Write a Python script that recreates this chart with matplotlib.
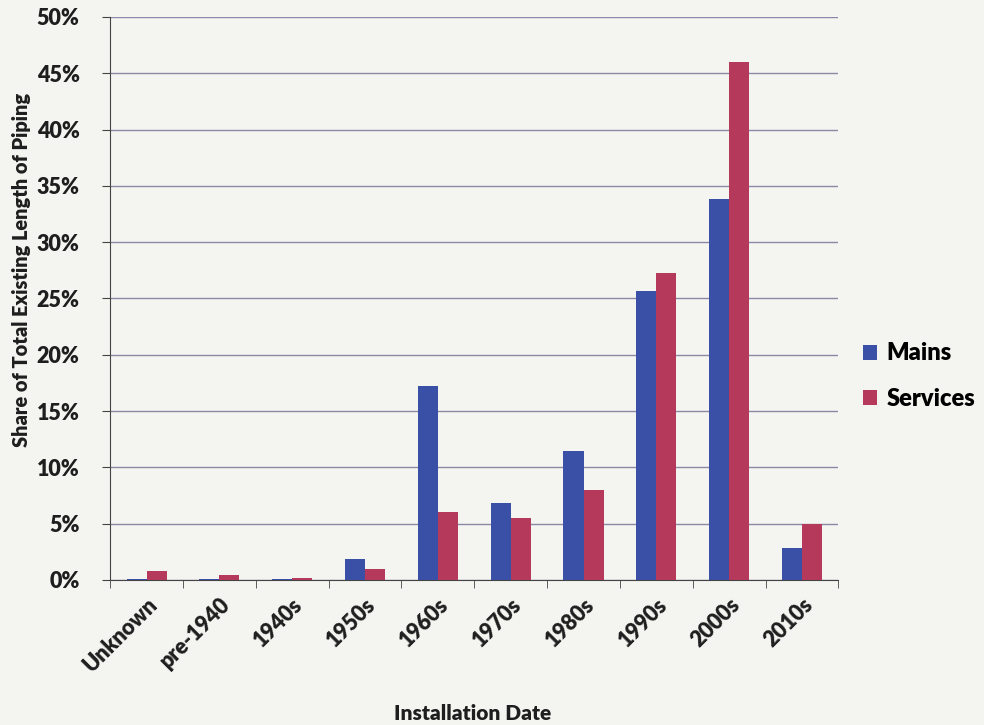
import numpy as np
import matplotlib.pyplot as plt
from matplotlib.ticker import FuncFormatter, FixedLocator

# Share of existing pipe length by installation decade (%)
categories = ["Unknown", "pre-1940", "1940s", "1950s", "1960s",
              "1970s", "1980s", "1990s", "2000s", "2010s"]
mains = [0.1, 0.1, 0.1, 1.9, 17.2, 6.8, 11.5, 25.7, 33.8, 2.8]
services = [0.8, 0.4, 0.2, 1.0, 6.0, 5.5, 8.0, 27.3, 46.0, 5.0]

plt.rcParams['font.family'] = ['Lato', 'DejaVu Sans']
plt.rcParams['font.weight'] = 'bold'
txt = '#1e1e1e'

fig = plt.figure(figsize=(9.84, 7.25), dpi=100)
fig.patch.set_facecolor('#f4f4f1')
ax = fig.add_axes([0.112, 0.2, 0.74, 0.7766])
ax.set_facecolor('#f4f4f1')

x = np.arange(len(categories))
w = 0.275
ax.bar(x - w / 2, mains, w, color='#3a4fa6', label='Mains', zorder=3)
ax.bar(x + w / 2, services, w, color='#b4395a', label='Services', zorder=3)

ax.set_xlim(-0.5, len(categories) - 0.5)
ax.set_ylim(0, 50)
ax.set_yticks(np.arange(0, 51, 5))
ax.yaxis.set_major_formatter(FuncFormatter(lambda v, p: f"{v:.0f}%"))
ax.grid(axis='y', color='#8a8aa8', linewidth=1.0, zorder=0)

# category labels sit under bars, tick marks at the category boundaries
ax.set_xticks(x)
ax.set_xticklabels(categories, rotation=45, ha='right', rotation_mode='anchor',
                   fontsize=15.5, fontweight='heavy', color=txt)
ax.tick_params(axis='x', which='major', length=0, pad=10)
ax.xaxis.set_minor_locator(FixedLocator(np.arange(-0.5, len(categories), 1)))
ax.tick_params(axis='x', which='minor', length=6, direction='out', color='#444444')
ax.tick_params(axis='y', length=6, direction='out', color='#444444',
               labelsize=15.5, labelcolor=txt, pad=16)
for lbl in ax.get_yticklabels():
    lbl.set_fontweight('heavy')

for side in ['top', 'right']:
    ax.spines[side].set_visible(False)
ax.spines['left'].set_color('#444444')
ax.spines['bottom'].set_color('#444444')

# axis titles placed in figure coordinates
fig.text(22 / 984, 1 - 270 / 725, 'Share of Total Existing Length of Piping',
         rotation=90, ha='center', va='center', fontsize=14.4,
         fontweight='heavy', color=txt)
fig.text(473 / 984, 12 / 725, 'Installation Date', ha='center', va='center',
         fontsize=15, fontweight='heavy', color=txt)

ax.legend(loc='center left', bbox_to_anchor=(1.005, 0.362), frameon=False,
          prop={'size': 17, 'weight': 'heavy'}, handlelength=0.6,
          handleheight=0.6, labelspacing=1.0, handletextpad=0.4)

fig.savefig('out.png', dpi=100, facecolor=fig.get_facecolor())
